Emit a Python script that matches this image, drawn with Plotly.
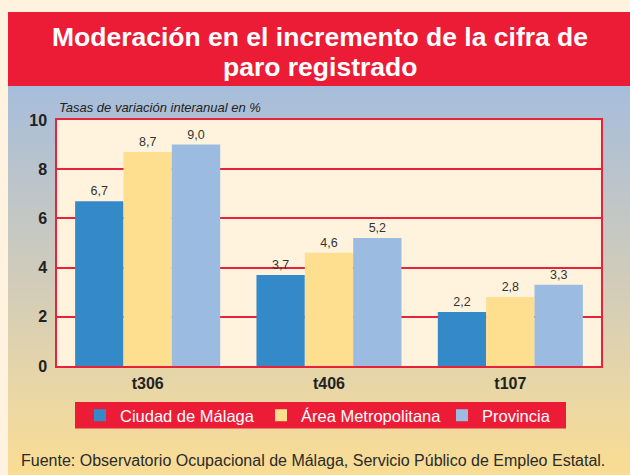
import base64
import plotly.graph_objects as go

# ---- data ----
categories = ["t306", "t406", "t107"]
ciudad = [6.7, 3.7, 2.2]
area_metro = [8.7, 4.6, 2.8]
provincia = [9.0, 5.2, 3.3]
series_names = ["Ciudad de Málaga", "Área Metropolitana", "Provincia"]
y_ticks = [0, 2, 4, 6, 8, 10]

title_lines = ["Moderación en el incremento de la cifra de", "paro registrado"]
axis_note = "Tasas de variación interanual en %"
source_text = "Fuente: Observatorio Ocupacional de Málaga, Servicio Público de Empleo Estatal."

# ---- layout geometry (pixels) ----
W, H = 630, 475
PL, PR, PT, PB = 57, 601, 120, 366  # plot area


def px(x):
    return (x - PL) / (PR - PL)


def py(y):
    return (PB - y) / (PB - PT)


FONT = "Liberation Sans, Arial, sans-serif"
RED = "#EC1C37"
colors = ["#3489C9", "#FDDF8F", "#9BBBE1"]

fig = go.Figure()
for name, vals, col in zip(series_names, [ciudad, area_metro, provincia], colors):
    fig.add_trace(go.Bar(
        x=categories, y=vals, name=name,
        marker=dict(color=col, line=dict(width=0)),
        texttemplate="%{y:.1f}", textposition="outside",
        textfont=dict(family=FONT, size=12.5, color="#333333"),
        cliponaxis=False,
    ))

# gradient background as SVG image
svg = (
    '<svg xmlns="http://www.w3.org/2000/svg" width="100" height="100" preserveAspectRatio="none">'
    '<defs><linearGradient id="g" x1="0" y1="0" x2="0" y2="1">'
    '<stop offset="0" stop-color="#A6BDDB"/>'
    '<stop offset="0.5" stop-color="#D1CCBA"/>'
    '<stop offset="0.8" stop-color="#EAD7A4"/>'
    '<stop offset="1" stop-color="#FADD93"/>'
    '</linearGradient></defs>'
    '<rect width="100" height="100" fill="url(#g)"/></svg>'
)
uri = "data:image/svg+xml;base64," + base64.b64encode(svg.encode()).decode()

fig.add_layout_image(dict(
    source=uri, xref="paper", yref="paper",
    x=px(8), y=py(86), sizex=px(630) - px(8), sizey=py(86) - py(475),
    xanchor="left", yanchor="top", sizing="stretch", layer="below",
))

shapes = [
    # red title band
    dict(type="rect", xref="paper", yref="paper", x0=px(8), x1=px(631), y0=py(86), y1=py(12),
         fillcolor=RED, line=dict(width=0), layer="below"),
    # plot area cream
    dict(type="rect", xref="paper", yref="paper", x0=0, x1=1, y0=0, y1=1,
         fillcolor="#FFF3DD", line=dict(width=0), layer="below"),
    # legend box
    dict(type="rect", xref="paper", yref="paper", x0=px(75), x1=px(566), y0=py(428.5), y1=py(402),
         fillcolor=RED, line=dict(width=0), layer="below"),
]

annotations = [
    dict(text="<b>" + title_lines[0] + "</b>", xref="paper", yref="paper", x=px(320), y=py(37),
         xanchor="center", yanchor="middle", showarrow=False,
         font=dict(family=FONT, size=26.5, color="white")),
    dict(text="<b>" + title_lines[1] + "</b>", xref="paper", yref="paper", x=px(320), y=py(67),
         xanchor="center", yanchor="middle", showarrow=False,
         font=dict(family=FONT, size=26.5, color="white")),
    dict(text="<i>" + axis_note + "</i>", xref="paper", yref="paper", x=px(57), y=py(107),
         xanchor="left", yanchor="middle", showarrow=False,
         font=dict(family=FONT, size=13, color="#222222")),
    dict(text=source_text, xref="paper", yref="paper", x=px(19), y=py(460),
         xanchor="left", yanchor="middle", showarrow=False,
         font=dict(family=FONT, size=16, color="#2a2a2a")),
]

fig.update_layout(
    width=W, height=H,
    margin=dict(l=PL, r=W - PR, t=PT, b=H - PB, autoexpand=False),
    paper_bgcolor="#FFF3DF", plot_bgcolor="rgba(0,0,0,0)",
    barmode="group", bargap=0.2, bargroupgap=0,
    separators=",.",
    shapes=shapes, annotations=annotations,
    showlegend=True,
    legend=dict(orientation="h", xref="container", yref="container",
                x=80 / W, y=(H - 415.5) / H, xanchor="left", yanchor="middle",
                bgcolor="rgba(0,0,0,0)", font=dict(family=FONT, size=16.5, color="white"),
                itemwidth=30, entrywidth=136, traceorder="normal"),
    font=dict(family=FONT),
)
fig.update_yaxes(range=[0, 10], tickvals=y_ticks, ticktext=[str(v) for v in y_ticks],
                 showgrid=True, gridcolor="#E8223A", gridwidth=1.5,
                 showline=True, linecolor="#E8223A", linewidth=1.5, mirror=True,
                 zeroline=False, ticks="", ticklabelstandoff=5,
                 tickfont=dict(family=FONT, size=16, color="#222222", weight="bold"))
fig.update_xaxes(showline=True, linecolor="#E8223A", linewidth=1.5, mirror=True,
                 ticks="", tickfont=dict(family=FONT, size=16, color="#222222", weight="bold"),
                 ticklabelstandoff=2)

fig.write_html("out.html", config={"displayModeBar": False},
               post_script="document.body.style.margin='0';")
